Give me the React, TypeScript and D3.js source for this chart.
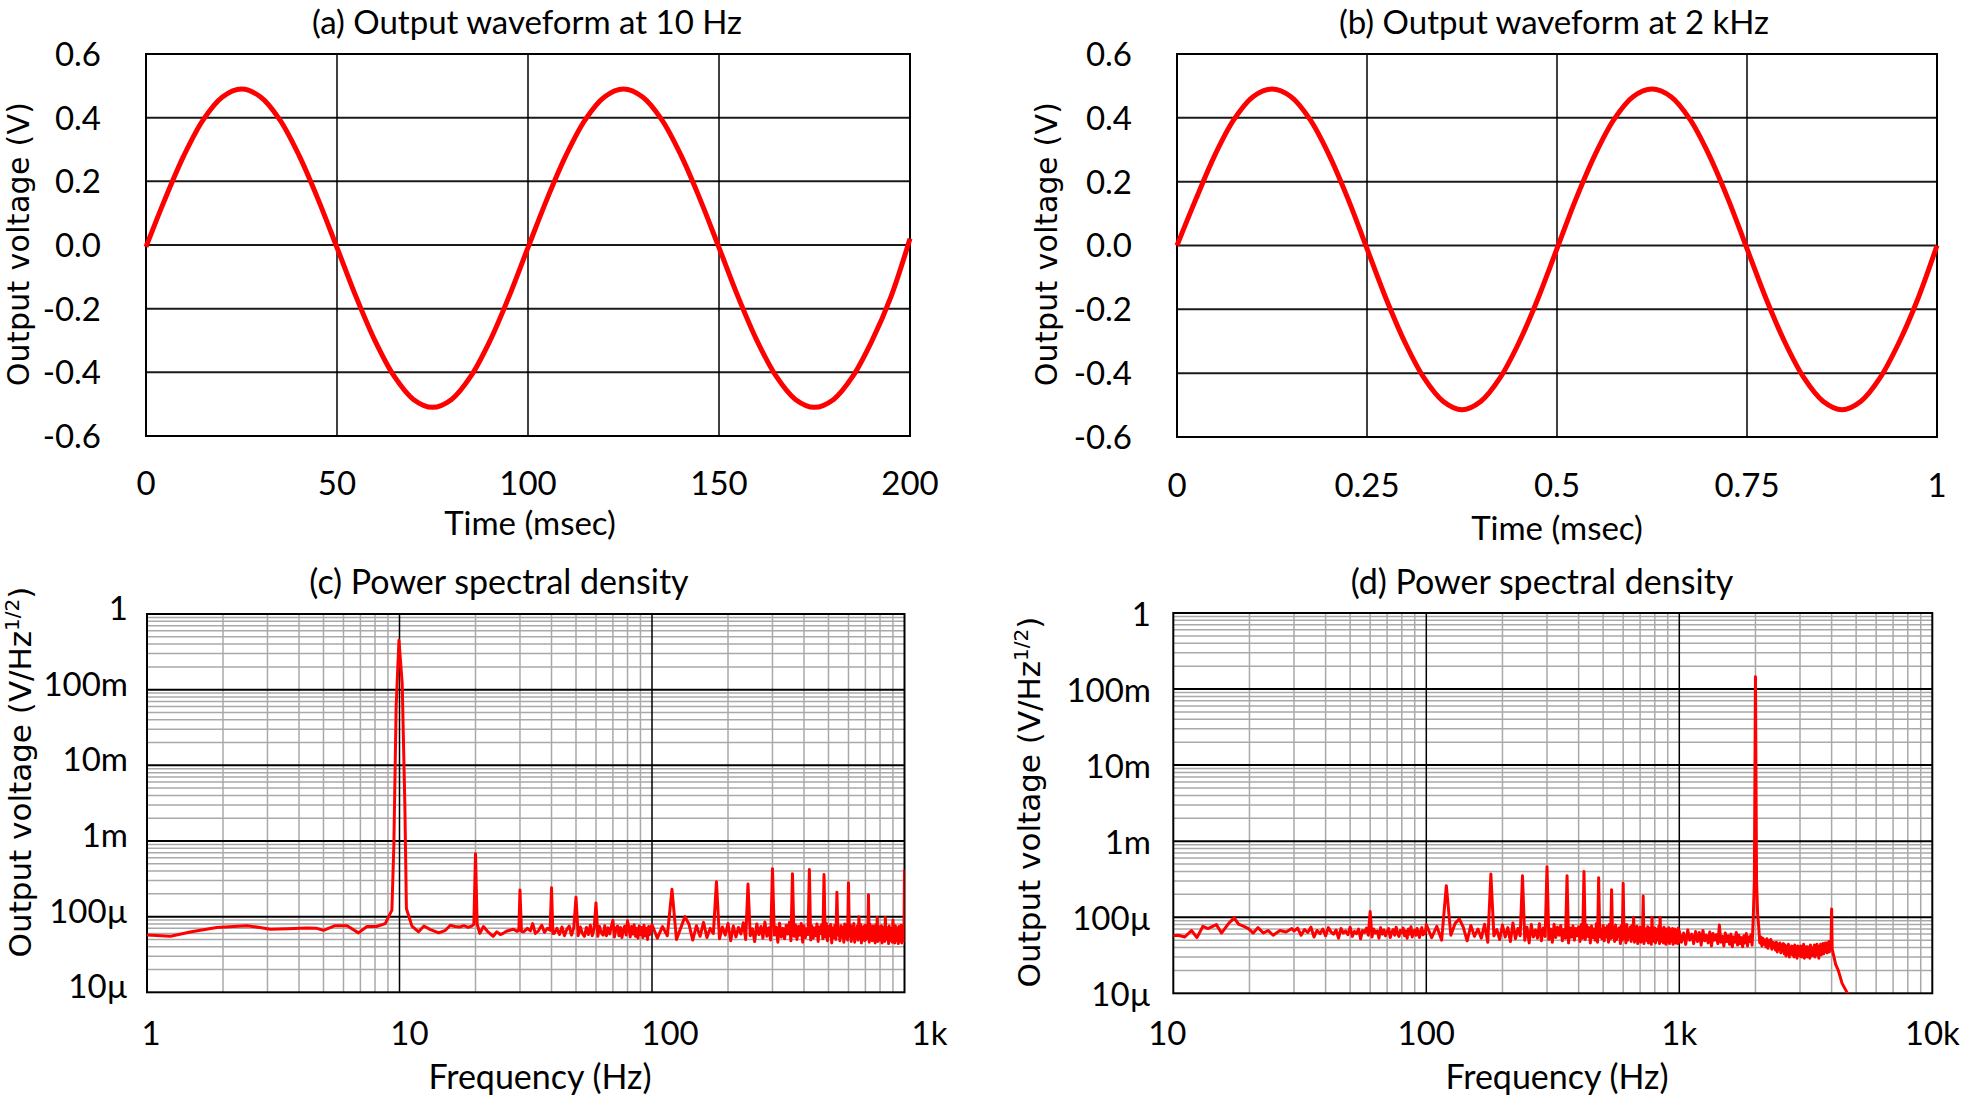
import React from "react";
import * as d3 from "d3";

const W = 1961;
const H = 1099;

const FONT = "Lato, 'Open Sans', sans-serif";
const YFONT = "'DejaVu Sans', Verdana, sans-serif";
const RED = "#ff0000";

// ---------------- (a) waveform at 10 Hz ----------------
const waveATime = [0, 5, 10, 15, 20, 25, 30, 35, 40, 45, 50, 55, 60, 65, 70, 75, 80, 85, 90, 95, 100, 105, 110, 115, 120, 125, 130, 135, 140, 145, 150, 155, 160, 165, 170, 175, 180, 185, 190, 195, 200];
const waveAVolt = [-0.006, 0.145, 0.283, 0.394, 0.465, 0.49, 0.465, 0.394, 0.283, 0.145, -0.008, -0.163, -0.302, -0.413, -0.485, -0.51, -0.485, -0.413, -0.302, -0.163, -0.008, 0.145, 0.283, 0.394, 0.465, 0.49, 0.465, 0.394, 0.283, 0.145, -0.008, -0.163, -0.302, -0.413, -0.485, -0.51, -0.485, -0.413, -0.302, -0.163, 0.02];
const waveATicks = [0, 50, 100, 150, 200];
const waveATickLabels = ["0", "50", "100", "150", "200"];

// ---------------- (b) waveform at 2 kHz ----------------
const waveBTime = [0, 0.025, 0.05, 0.075, 0.1, 0.125, 0.15, 0.175, 0.2, 0.225, 0.25, 0.275, 0.3, 0.325, 0.35, 0.375, 0.4, 0.425, 0.45, 0.475, 0.5, 0.525, 0.55, 0.575, 0.6, 0.625, 0.65, 0.675, 0.7, 0.725, 0.75, 0.775, 0.8, 0.825, 0.85, 0.875, 0.9, 0.925, 0.95, 0.975, 1];
const waveBVolt = [0.0, 0.146, 0.284, 0.395, 0.466, 0.49, 0.466, 0.395, 0.284, 0.146, -0.01, -0.166, -0.304, -0.415, -0.488, -0.515, -0.488, -0.415, -0.304, -0.166, -0.01, 0.146, 0.284, 0.395, 0.466, 0.49, 0.466, 0.395, 0.284, 0.146, -0.01, -0.166, -0.304, -0.415, -0.488, -0.515, -0.488, -0.415, -0.304, -0.166, 0.0];
const waveBTicks = [0, 0.25, 0.5, 0.75, 1];
const waveBTickLabels = ["0", "0.25", "0.5", "0.75", "1"];

const voltTicks = [-0.6, -0.4, -0.2, 0, 0.2, 0.4, 0.6];
const voltTickLabels = ["-0.6", "-0.4", "-0.2", "0.0", "0.2", "0.4", "0.6"];

// ---------------- (c) PSD, 1 Hz - 1 kHz (values in µV/√Hz) ----------------
const psdCLowFreq = [1, 1.24, 1.5, 1.89, 2.2, 2.49, 2.8, 3.08, 3.6, 4.3, 4.7, 5.0, 5.56, 6.2, 6.88, 7.43, 8.1, 8.78, 9.33, 9.5, 9.7, 9.95, 10.25, 10.5, 10.65, 11.2, 11.9, 12.5, 13.2, 14.3, 15.2, 15.9, 16.6, 17.3, 18, 18.7, 19.3, 19.7, 20.3, 20.8, 21.5, 22.3, 23.5, 24.3, 25.1, 25.7, 26.5, 27.3, 28.3, 29.3, 29.7, 30.4, 31, 32.1, 33, 33.7, 34.5, 35.5, 36.6, 37.5, 38.5, 39.5, 40.5];
const psdCLowVal = [57, 55, 63, 72, 74, 76, 72, 68, 69, 71, 70, 66, 76, 76, 61, 74, 74, 81, 122, 900, 60000, 450000, 120000, 3000, 128, 75, 63, 75, 68, 61, 66, 77, 74, 73, 76, 72, 75, 79, 80, 60, 74, 64, 55, 63, 58, 60, 64, 66, 68, 64, 66, 64, 63, 70, 65, 81, 60, 65, 77, 62, 70, 66, 60];
// bins 41..99 Hz, 1 Hz apart
const psdCMidStart = 41;
const psdCMidStep = 1;
const psdCMidVal = [
  60, 70, 58, 73, 56, 68, 75, 57, 71, 61,
  56, 73, 60, 55, 72, 58, 77, 56, 70, 60,
  55, 74, 61, 57, 76, 56, 71, 59, 74, 62,
  54, 70, 75, 56, 72, 53, 67, 75, 57, 69,
  71, 54, 74, 59, 78, 55, 70, 52, 75, 58,
  72, 53, 77, 56, 70, 50, 74, 58, 71,
];
// bins 100..1000 Hz, 5 Hz apart
const psdCHighStart = 100;
const psdCHighStep = 5;
const psdCHighVal = [
  78, 52, 74, 56, 82, 50, 71, 58, 80, 49, 76, 55, 84, 53, 70, 60, 79, 51, 73, 57,
  81, 48, 75, 54, 72, 59, 83, 50, 77, 56, 69, 47, 80, 58, 74, 52, 85, 55, 71, 49,
  79, 57, 73, 46, 82, 54, 70, 51, 77, 59, 84, 48, 72, 55, 78, 50, 74, 57, 81, 46,
  76, 53, 69, 58, 83, 49, 75, 52, 71, 56, 80, 47, 73, 60, 78, 51, 70, 54, 82, 48,
  74, 56, 79, 45, 71, 53, 77, 50, 84, 57, 69, 48, 76, 54, 72, 46, 80, 52, 75, 49,
  70, 55, 78, 47, 73, 51, 81, 46, 68, 57, 75, 49, 72, 53, 79, 45, 70, 56, 74, 48,
  77, 50, 69, 54, 73, 46, 80, 52, 67, 48, 75, 55, 71, 45, 78, 51, 69, 47, 74, 53,
  68, 49, 76, 45, 70, 53, 73, 47, 79, 50, 66, 54, 72, 44, 75, 48, 70, 52, 67, 46,
  73, 51, 69, 45, 76, 48, 66, 53, 71, 44, 74, 50, 68, 47, 77, 45, 65, 52, 70, 48,
  60,
];
const psdCSpikeFreq = [20, 30, 40, 50, 60, 70, 80, 120, 135, 180, 240, 300, 360, 420, 480, 540, 600, 660, 720, 780, 840, 900, 1000];
const psdCSpikeVal = [680, 225, 240, 180, 152, 89, 88, 230, 100, 290, 270, 430, 370, 420, 360, 210, 280, 100, 195, 98, 98, 90, 420];

// ---------------- (d) PSD, 10 Hz - 10 kHz (values in µV/√Hz) ----------------
const psdDLowFreq = [10, 10.46, 11.1, 11.8, 12.4, 13.1, 13.7, 14.8, 15.5, 16.5, 17.4, 18.1, 19.0, 19.8, 20.7, 21.6, 22.7, 23.7, 24.8, 26.4, 27.9, 29.4];
const psdDLowVal = [57, 58, 55, 67, 54, 76, 71, 80, 62, 82, 98, 81, 76, 71, 62, 73, 62, 67, 58, 67, 64, 71];
const psdDMidStart = 30;
const psdDMidStep = 1;
const psdDMidVal = [
  66, 72, 58, 69, 63, 74, 55, 67, 61, 70,
  57, 73, 64, 60, 68, 53, 71, 62, 66, 59,
  74, 56, 65, 61, 70, 52, 67, 63, 72, 58,
  64, 55, 70, 62, 66, 53, 73, 60, 68, 57,
  65, 71, 54, 63, 69, 58, 74, 61, 56, 67,
  62, 72, 57, 66, 53, 70, 60, 75, 55, 64,
  68, 58, 71, 62, 54, 67, 73, 59, 65, 61,
];
const psdDHighStart = 100;
const psdDHighStep = 5;
const psdDHighVal = [
  80, 54, 76, 50, 72, 58, 83, 52, 74, 49, 78, 56, 70, 53, 81, 47, 75, 57, 69, 51,
  79, 55, 73, 48, 84, 52, 71, 57, 77, 50, 74, 46, 80, 55, 68, 53, 82, 49, 72, 56,
  76, 51, 70, 47, 81, 54, 74, 58, 78, 49, 69, 53, 83, 46, 72, 55, 77, 50, 71, 57,
  75, 48, 80, 53, 68, 51, 79, 56, 73, 46, 77, 54, 70, 50, 82, 47, 74, 55, 69, 52,
  78, 49, 72, 55, 76, 47, 81, 52, 67, 54, 74, 48, 79, 51, 70, 56, 73, 45, 77, 50,
  71, 53, 75, 46, 80, 50, 69, 55, 74, 48, 78, 52, 66, 47, 73, 54, 76, 45, 70, 51,
  74, 47, 68, 52, 77, 45, 71, 54, 66, 49, 75, 46, 72, 51, 69, 44, 73, 50, 67, 48,
  72, 46, 70, 50, 65, 53, 76, 45, 69, 48, 71, 52, 64, 46, 74, 49, 68, 44, 70, 51,
  67, 47, 73, 45, 69, 50, 64, 48, 71, 44, 66, 51, 70, 46, 63, 49, 68, 45, 72, 47,
];
const psdDUpperStart = 1000;
const psdDUpperStep = 20;
const psdDUpperVal = [
  66, 47, 62, 44, 68, 50, 60, 45, 65, 48,
  63, 43, 67, 49, 58, 46, 64, 42, 61, 50,
  59, 45, 66, 47, 56, 42, 62, 48, 57, 44,
  60, 41, 55, 47, 63, 43, 58, 45, 54, 41,
  57, 46, 61, 42, 55, 48, 59, 43, 62, 60,
  60, 62, 60, 58, 46, 55, 42, 53, 44, 50,
  41, 52, 39, 49, 43, 51, 38, 47, 40, 46,
  37, 47, 35, 44, 38, 46, 34, 43, 36, 45,
  33, 43, 31, 41, 35, 44, 30, 40, 34, 42,
  32, 41, 30, 43, 34, 39, 29, 42, 33, 40,
  31, 42, 30, 39, 33, 44, 29, 40, 32, 41,
  30, 41, 33, 38, 29, 43, 31, 40, 34, 39,
  31, 43, 30, 40, 35, 44, 32, 41, 29, 42,
  34, 44, 32, 42, 36, 45, 33, 43, 35, 46,
  37, 46, 34, 44, 38, 48, 35, 45, 39, 47,
];
const psdDTailFreq = [4020, 4060, 4150, 4250, 4400, 4550, 4700];
const psdDTailVal = [38, 33, 24, 20, 13.5, 11, 9];
const psdDSpikeFreq = [60, 120, 135, 180, 240, 300, 360, 420, 480, 540, 600, 660, 720, 780, 840, 1440, 1960, 1980, 2000, 2020, 2040, 2060, 4000];
const psdDSpikeVal = [119, 260, 95, 370, 350, 460, 350, 400, 330, 230, 280, 100, 190, 100, 100, 79, 95, 300, 145000, 300, 110, 75, 128];

const logTickVals = [1e-5, 1e-4, 1e-3, 1e-2, 1e-1, 1];
const logTickLabels = ["10µ", "100µ", "1m", "10m", "100m", "1"];
const freqCTicks = [1, 10, 100, 1000];
const freqDTicks = [10, 100, 1000, 10000];
const freqCLabels = ["1", "10", "100", "1k"];
const freqDLabels = ["10", "100", "1k", "10k"];

// ---------------- helpers ----------------
type Pt = { f: number; v: number };
const bins = (start: number, step: number, vals: number[]) => vals.map((_, i) => start + i * step);

function buildSpectrum(parts: [number[], number[]][], spikeF: number[], spikeV: number[]): Pt[] {
  const m = new Map<number, number>();
  parts.forEach(([f, v]) => f.forEach((fi, i) => m.set(+fi.toFixed(4), v[i])));
  spikeF.forEach((f, i) => m.set(+f.toFixed(4), spikeV[i]));
  return Array.from(m.entries())
    .sort((a, b) => a[0] - b[0])
    .map(([f, v]) => ({ f, v: v * 1e-6 }));
}

const spectrumC = buildSpectrum(
  [
    [psdCLowFreq, psdCLowVal],
    [bins(psdCMidStart, psdCMidStep, psdCMidVal), psdCMidVal],
    [bins(psdCHighStart, psdCHighStep, psdCHighVal), psdCHighVal],
  ],
  psdCSpikeFreq,
  psdCSpikeVal
);
const spectrumD = buildSpectrum(
  [
    [psdDLowFreq, psdDLowVal],
    [bins(psdDMidStart, psdDMidStep, psdDMidVal), psdDMidVal],
    [bins(psdDHighStart, psdDHighStep, psdDHighVal), psdDHighVal],
    [bins(psdDUpperStart, psdDUpperStep, psdDUpperVal), psdDUpperVal],
    [psdDTailFreq, psdDTailVal],
  ],
  psdDSpikeFreq,
  psdDSpikeVal
);

// ---------------- components ----------------
type WaveProps = {
  title: string;
  titleX: number;
  titleY: number;
  box: [number, number, number, number];
  xDomain: [number, number];
  xTicks: number[];
  xTickLabels: string[];
  t: number[];
  v: number[];
  xTitleX: number;
  xTitleY: number;
  yTitleX: number;
  yTitleY: number;
  xTickY: number;
};

function WavePanel(p: WaveProps) {
  const [x0, y0, x1, y1] = p.box;
  const x = d3.scaleLinear().domain(p.xDomain).range([x0, x1]);
  const y = d3.scaleLinear().domain([-0.6, 0.6]).range([y1, y0]);
  const line = d3
    .line<number>()
    .x((_, i) => x(p.t[i]))
    .y((d) => y(d))
    .curve(d3.curveCatmullRom);
  return (
    <g>
      {voltTicks.slice(1, -1).map((v) => (
        <line key={"h" + v} x1={x0} x2={x1} y1={y(v)} y2={y(v)} stroke="#1a1a1a" strokeWidth={2} />
      ))}
      {p.xTicks.slice(1, -1).map((v) => (
        <line key={"v" + v} x1={x(v)} x2={x(v)} y1={y0} y2={y1} stroke="#000" strokeWidth={1.5} />
      ))}
      <rect x={x0} y={y0} width={x1 - x0} height={y1 - y0} fill="none" stroke="#000" strokeWidth={2} />
      <path d={line(p.v) || ""} fill="none" stroke={RED} strokeWidth={5} strokeLinejoin="round" />
      {voltTicks.map((v, i) => (
        <text key={"yl" + v} x={x0 - 45} y={y(v)} dy="0.36em" textAnchor="end" fontFamily={FONT} fontSize={33} fill="#000">
          {voltTickLabels[i]}
        </text>
      ))}
      {p.xTicks.map((v, i) => (
        <text key={"xl" + v} x={x(v)} y={p.xTickY} textAnchor="middle" fontFamily={FONT} fontSize={33} fill="#000">
          {p.xTickLabels[i]}
        </text>
      ))}
      <text x={p.titleX} y={p.titleY} textAnchor="middle" fontFamily={FONT} fontSize={33} fill="#000">
        {p.title}
      </text>
      <text x={p.xTitleX} y={p.xTitleY} textAnchor="middle" fontFamily={FONT} fontSize={33} fill="#000">
        Time (msec)
      </text>
      <text
        transform={`translate(${p.yTitleX},${p.yTitleY}) rotate(-90)`}
        textAnchor="middle"
        fontFamily={YFONT}
        fontSize={30}
        letterSpacing={0.3}
        fill="#000"
      >
        Output voltage (V)
      </text>
    </g>
  );
}

type LogProps = {
  id: string;
  title: string;
  titleX: number;
  titleY: number;
  box: [number, number, number, number];
  xDomain: [number, number];
  xTicks: number[];
  xTickLabels: string[];
  xTickDx: number[];
  data: Pt[];
  yLabelRight: number;
  yLabelDy: number;
  xTitleX: number;
  xTitleY: number;
  yTitleX: number;
  yTitleY: number;
  xTickY: number;
};

function LogPanel(p: LogProps) {
  const [x0, y0, x1, y1] = p.box;
  const x = d3.scaleLog().domain(p.xDomain).range([x0, x1]);
  const y = d3.scaleLog().domain([1e-5, 1]).range([y1, y0]);
  const isDecade = (v: number) => Math.abs(Math.log10(v) - Math.round(Math.log10(v))) < 1e-9;
  const xMinor = x.ticks().filter((v) => !isDecade(v));
  const yMinor = y.ticks().filter((v) => !isDecade(v));
  const line = d3
    .line<Pt>()
    .x((d) => x(d.f))
    .y((d) => y(d.v));
  const clipId = "clip-" + p.id;
  return (
    <g>
      <defs>
        <clipPath id={clipId}>
          <rect x={x0} y={y0 - 2} width={x1 - x0} height={y1 - y0 + 2} />
        </clipPath>
      </defs>
      {yMinor.map((v) => (
        <line key={"hm" + v} x1={x0} x2={x1} y1={y(v)} y2={y(v)} stroke="#a9a9a9" strokeWidth={1.5} />
      ))}
      {xMinor.map((v) => (
        <line key={"vm" + v} x1={x(v)} x2={x(v)} y1={y0} y2={y1} stroke="#a9a9a9" strokeWidth={1.5} />
      ))}
      {logTickVals.slice(1, -1).map((v) => (
        <line key={"hM" + v} x1={x0} x2={x1} y1={y(v)} y2={y(v)} stroke="#000" strokeWidth={2} />
      ))}
      {p.xTicks.slice(1, -1).map((v) => (
        <line key={"vM" + v} x1={x(v)} x2={x(v)} y1={y0} y2={y1} stroke="#000" strokeWidth={1.5} />
      ))}
      <rect x={x0} y={y0} width={x1 - x0} height={y1 - y0} fill="none" stroke="#000" strokeWidth={2} />
      <path
        d={line(p.data) || ""}
        fill="none"
        stroke={RED}
        strokeWidth={3}
        strokeLinejoin="round"
        clipPath={`url(#${clipId})`}
      />
      {logTickVals.map((v, i) => (
        <text key={"yl" + v} x={p.yLabelRight} y={y(v) + p.yLabelDy} dy="0.36em" textAnchor="end" fontFamily={FONT} fontSize={33} fill="#000">
          {logTickLabels[i]}
        </text>
      ))}
      {p.xTicks.map((v, i) => (
        <text key={"xl" + v} x={x(v) + p.xTickDx[i]} y={p.xTickY} textAnchor="middle" fontFamily={FONT} fontSize={33} fill="#000">
          {p.xTickLabels[i]}
        </text>
      ))}
      <text x={p.titleX} y={p.titleY} textAnchor="middle" fontFamily={FONT} fontSize={34} fill="#000">
        {p.title}
      </text>
      <text x={p.xTitleX} y={p.xTitleY} textAnchor="middle" fontFamily={FONT} fontSize={34} fill="#000">
        Frequency (Hz)
      </text>
      <text
        transform={`translate(${p.yTitleX},${p.yTitleY}) rotate(-90)`}
        textAnchor="middle"
        fontFamily={YFONT}
        fontSize={31}
        fill="#000"
      >
        Output voltage (V/Hz
        <tspan dy={-12} fontSize={20}>
          1/2
        </tspan>
        <tspan dy={12}>)</tspan>
      </text>
    </g>
  );
}

export default function App() {
  return (
    <svg
      width={W}
      height={H}
      viewBox={`0 0 ${W} ${H}`}
      style={{ position: "absolute", left: 0, top: 0, background: "#fff" }}
    >
      <rect x={0} y={0} width={W} height={H} fill="#fff" />
      <WavePanel
        title="(a) Output waveform at 10 Hz"
        titleX={527}
        titleY={33.5}
        box={[146, 54, 910, 436]}
        xDomain={[0, 200]}
        xTicks={waveATicks}
        xTickLabels={waveATickLabels}
        t={waveATime}
        v={waveAVolt}
        xTitleX={530}
        xTitleY={535}
        yTitleX={29}
        yTitleY={244}
        xTickY={495}
      />
      <WavePanel
        title="(b) Output waveform at 2 kHz"
        titleX={1554}
        titleY={33.5}
        box={[1177, 54, 1937, 437]}
        xDomain={[0, 1]}
        xTicks={waveBTicks}
        xTickLabels={waveBTickLabels}
        t={waveBTime}
        v={waveBVolt}
        xTitleX={1557}
        xTitleY={540}
        yTitleX={1057}
        yTitleY={244}
        xTickY={497}
      />
      <LogPanel
        id="c"
        title="(c) Power spectral density"
        titleX={499}
        titleY={594}
        box={[147, 614, 904.5, 992.3]}
        xDomain={[1, 1000]}
        xTicks={freqCTicks}
        xTickLabels={freqCLabels}
        xTickDx={[4, 10, 18, 25]}
        data={spectrumC}
        yLabelRight={128}
        yLabelDy={-6}
        xTitleX={540}
        xTitleY={1089}
        yTitleX={31}
        yTitleY={772}
        xTickY={1045}
      />
      <LogPanel
        id="d"
        title="(d) Power spectral density"
        titleX={1542}
        titleY={594}
        box={[1173.3, 613, 1932.3, 993.3]}
        xDomain={[10, 10000]}
        xTicks={freqDTicks}
        xTickLabels={freqDLabels}
        xTickDx={[-6, 0, 0, 0]}
        data={spectrumD}
        yLabelRight={1151}
        yLabelDy={1}
        xTitleX={1557}
        xTitleY={1089}
        yTitleX={1040}
        yTitleY={802}
        xTickY={1045}
      />
    </svg>
  );
}
